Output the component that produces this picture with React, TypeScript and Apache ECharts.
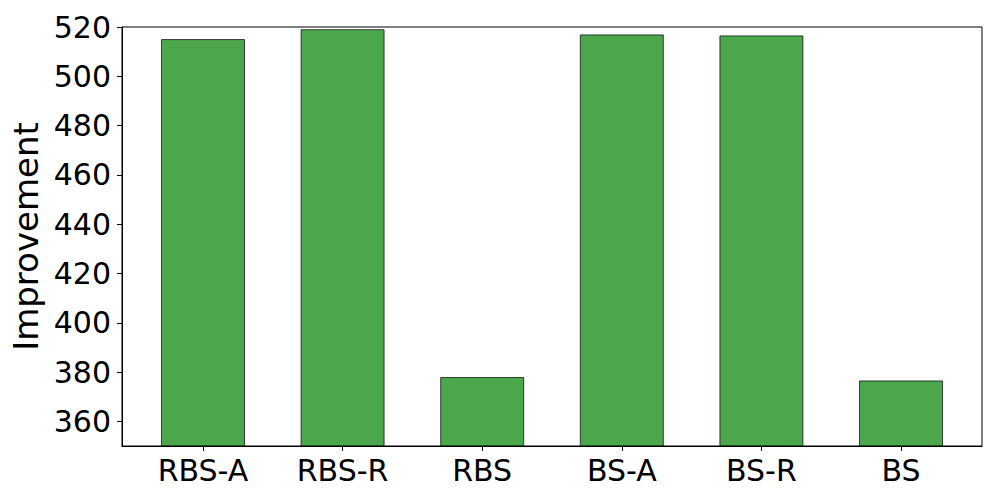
import React, { useEffect, useRef } from "react";
import * as echarts from "echarts";

const categories = ["RBS-A", "RBS-R", "RBS", "BS-A", "BS-R", "BS"];
const improvement = [515.1, 519.1, 378.0, 517.0, 516.6, 376.6];
const yTicks = [360, 380, 400, 420, 440, 460, 480, 500, 520];
const xTicks = [0, 1, 2, 3, 4, 5];

const FONT = "DejaVu Sans";

export default function App() {
  const ref = useRef<HTMLDivElement>(null);
  useEffect(() => {
    if (!ref.current) return;
    const chart = echarts.init(ref.current, undefined, { renderer: "svg" });
    chart.setOption({
      animation: false,
      backgroundColor: "#ffffff",
      grid: {
        left: 122,
        right: 18,
        top: 27,
        bottom: 54,
        show: true,
        borderColor: "#000000",
        borderWidth: 1,
        backgroundColor: "transparent",
      },
      xAxis: {
        type: "value",
        min: -0.58,
        max: 5.58,
        splitLine: { show: false },
        axisLine: { show: true, onZero: false, lineStyle: { color: "#000", width: 1 } },
        axisTick: {
          show: true,
          inside: false,
          length: 5,
          lineStyle: { color: "#000", width: 1 },
          customValues: xTicks,
        },
        axisLabel: {
          customValues: xTicks,
          formatter: (v: number) => categories[Math.round(v)] ?? "",
          fontFamily: FONT,
          fontSize: 30,
          color: "#000",
          margin: 9,
        },
      },
      yAxis: {
        type: "value",
        min: 350,
        max: 520,
        interval: 10,
        name: "Improvement",
        nameLocation: "middle",
        nameGap: 71,
        nameTextStyle: { fontFamily: FONT, fontSize: 34, color: "#000" },
        splitLine: { show: false },
        axisLine: { show: true, onZero: false, lineStyle: { color: "#000", width: 1 } },
        axisTick: {
          show: true,
          inside: false,
          length: 5,
          lineStyle: { color: "#000", width: 1 },
          customValues: yTicks,
        },
        axisLabel: {
          customValues: yTicks,
          fontFamily: FONT,
          fontSize: 30,
          color: "#000",
          margin: 11,
        },
      },
      series: [
        {
          type: "bar",
          data: improvement.map((v, i) => [i, v]),
          barWidth: 84,
          clip: true,
          itemStyle: {
            color: "rgba(0,128,0,0.7)",
            borderColor: "rgba(0,0,0,0.7)",
            borderWidth: 1,
          },
        },
      ],
    });
    return () => chart.dispose();
  }, []);
  return (
    <div
      ref={ref}
      style={{ position: "absolute", left: 0, top: 0, width: 1000, height: 500 }}
    />
  );
}
